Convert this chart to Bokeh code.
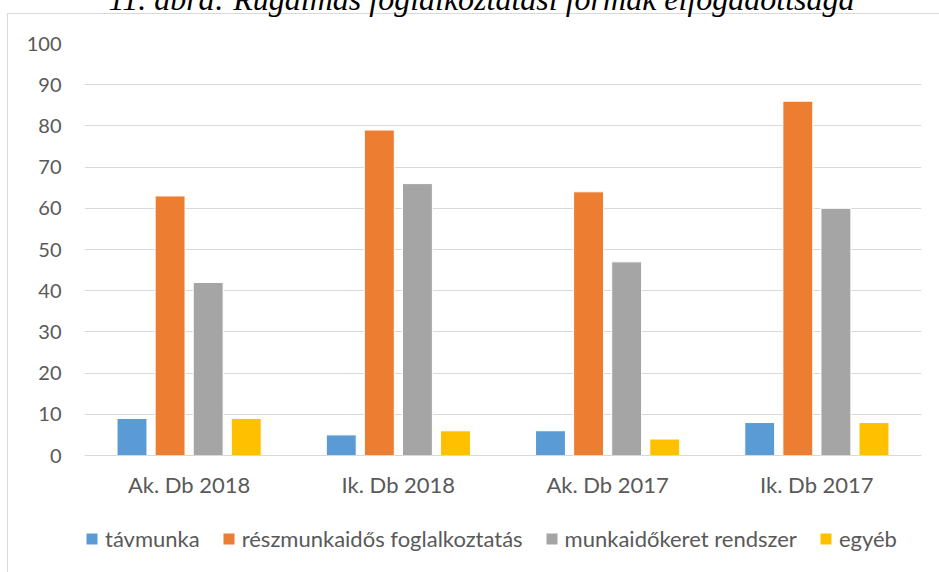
from bokeh.plotting import figure
from bokeh.models import (ColumnDataSource, FixedTicker, Legend, LegendItem, Title,
                          FactorRange, Range1d)
from bokeh.transform import dodge
from bokeh.embed import file_html
from bokeh.resources import INLINE

title_text = "11. ábra: Rugalmas foglalkoztatási formák elfogadottsága"
categories = ["Ak. Db 2018", "Ik. Db 2018", "Ak. Db 2017", "Ik. Db 2017"]
series_names = ["távmunka", "részmunkaidős foglalkoztatás", "munkaidőkeret rendszer", "egyéb"]
tavmunka = [9, 5, 6, 8]
reszmunkaidos = [63, 79, 64, 86]
munkaidokeret = [42, 66, 47, 60]
egyeb = [9, 6, 4, 8]
y_ticks = [0, 10, 20, 30, 40, 50, 60, 70, 80, 90, 100]
colors = ["#5B9BD5", "#ED7D31", "#A5A5A5", "#FFC000"]

TEXT = "#595959"
FONT = "Lato"
GRID = "#D9D9D9"
SHIFT = 60          # extra room above the page top, so the title can be cut like the reference
PLOT_H = 412        # pixels between the 0 and 100 gridlines
FRAME_H = 525       # frame reaches down under the legend row
Y_MAX = 100
Y_MIN = -(FRAME_H - PLOT_H) * Y_MAX / PLOT_H

src = ColumnDataSource(dict(cat=categories, s0=tavmunka, s1=reszmunkaidos,
                            s2=munkaidokeret, s3=egyeb))

p = figure(x_range=FactorRange(*categories), y_range=Range1d(Y_MIN, Y_MAX),
           frame_width=837, frame_height=FRAME_H, output_backend="svg", toolbar_location=None,
           min_border_left=84, min_border_right=18, min_border_top=43 + SHIFT,
           min_border_bottom=4)
line_img = "linear-gradient(%s, %s)" % (GRID, GRID)
p.styles = {
    "margin-top": "-%dpx" % SHIFT,
    "background": "%s 7px %dpx / 1px 100%% no-repeat, %s 7px %dpx / 100%% 1px no-repeat, white"
                  % (line_img, 13 + SHIFT, line_img, 13 + SHIFT),
}
p.outline_line_color = None
p.background_fill_color = "white"
p.border_fill_color = None

p.title = Title(text=title_text, align="left", offset=24, standoff=53,
                text_font="Liberation Serif", text_font_style="italic",
                text_font_size="32px", text_color="black")

offsets = [-0.273, -0.091, 0.091, 0.273]
renderers = []
for i, (off, col) in enumerate(zip(offsets, colors)):
    r = p.vbar(x=dodge("cat", off, range=p.x_range), top="s%d" % i, bottom=0, width=0.143,
               source=src, fill_color=col, line_color="white", line_width=1)
    renderers.append(r)

p.xgrid.grid_line_color = None
p.ygrid.grid_line_color = GRID
p.ygrid.grid_line_width = 1
p.yaxis.ticker = FixedTicker(ticks=y_ticks)
p.yaxis.axis_line_color = None
p.yaxis.major_tick_line_color = None
p.yaxis.minor_tick_line_color = None
p.yaxis.major_tick_out = 0
p.yaxis.major_label_standoff = 23
p.yaxis.major_label_text_font_size = "20px"
p.xaxis.fixed_location = 0
p.xaxis.axis_line_color = GRID
p.xaxis.major_tick_line_color = None
p.xaxis.minor_tick_line_color = None
p.xaxis.major_tick_out = 0
p.xaxis.major_label_standoff = 15
p.xaxis.major_label_text_font_size = "22px"
for ax in (p.xaxis[0], p.yaxis[0]):
    ax.major_label_text_font = FONT
    ax.major_label_text_color = TEXT

legend = Legend(items=[LegendItem(label=n, renderers=[r]) for n, r in zip(series_names, renderers)],
                orientation="horizontal", location=(0, 16), border_line_color=None,
                background_fill_alpha=0, padding=0, spacing=21, label_standoff=6,
                glyph_width=15, glyph_height=15, label_text_font=FONT,
                label_text_font_size="22px", label_text_color=TEXT, margin=0)
p.add_layout(legend)

open("out.html", "w").write(file_html(p, INLINE))
